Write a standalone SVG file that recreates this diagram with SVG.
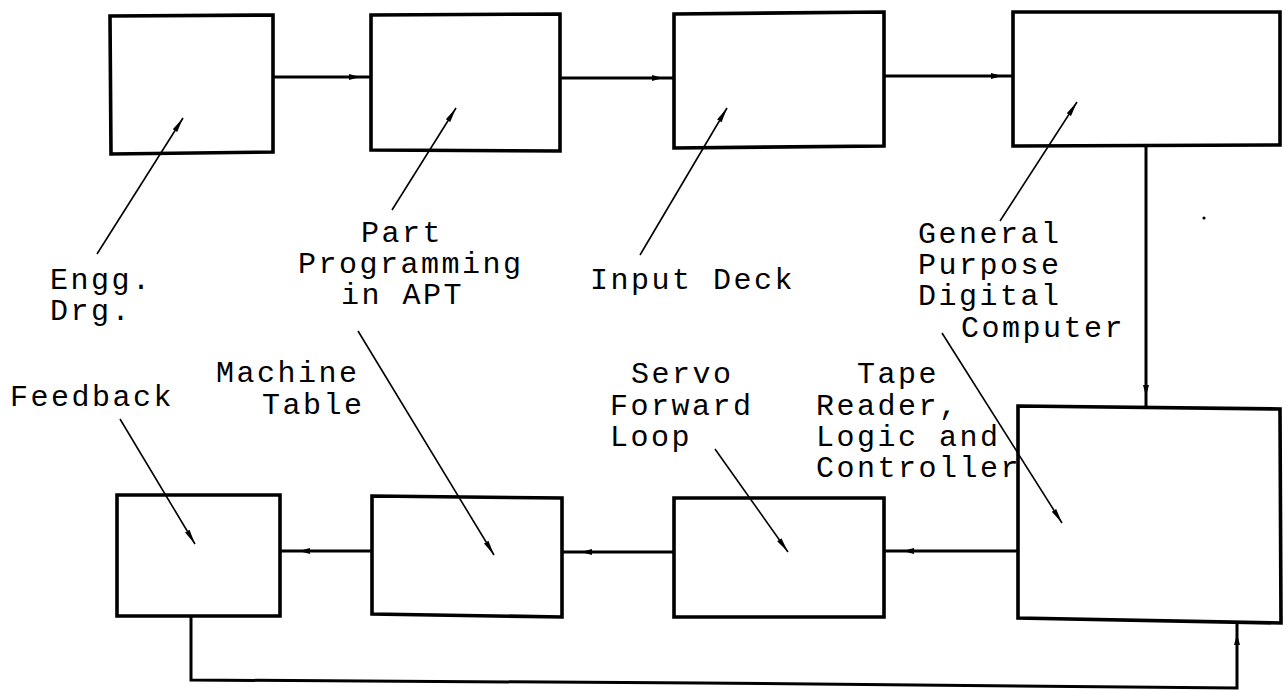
<svg xmlns="http://www.w3.org/2000/svg" width="1288" height="690" viewBox="0 0 1288 690">
  <style>
    .box { fill: #ffffff; stroke: #000000; stroke-width: 3.6; stroke-linejoin: miter; }
    .flow { fill: none; stroke: #000000; stroke-width: 3; }
    .lead { fill: none; stroke: #000000; stroke-width: 1.6; }
    .label { font-family: "Liberation Mono", "Courier New", monospace; font-size: 30px; letter-spacing: 2.5px; fill: #000000; }
  </style>
  <defs>
    <!-- solid head on block-to-block flow lines, drawn a little short of the path end -->
    <marker id="headNear" markerUnits="userSpaceOnUse" viewBox="0 0 30 10" refX="22" refY="5" markerWidth="30" markerHeight="10" orient="auto">
      <path d="M0,2 L11,5 L0,8 Z" fill="#000000"/>
    </marker>
    <marker id="headFar" markerUnits="userSpaceOnUse" viewBox="0 0 40 10" refX="30" refY="5" markerWidth="40" markerHeight="10" orient="auto">
      <path d="M0,2 L11,5 L0,8 Z" fill="#000000"/>
    </marker>
    <!-- slim head at the tip of each label pointer -->
    <marker id="pointer" markerUnits="userSpaceOnUse" viewBox="0 0 16 8" refX="15" refY="4" markerWidth="16" markerHeight="8" orient="auto">
      <path d="M0,1.4 L15,4 L0,6.6 Z" fill="#000000"/>
    </marker>
  </defs>

  <!-- top row -->
  <g id="engg-drawing">
    <path class="box" d="M110,16 L273,15 L273,152 L111,154 Z"/>
  </g>
  <g id="part-programming">
    <path class="box" d="M371,15 L560,14 L560,151 L371,150 Z"/>
  </g>
  <g id="input-deck">
    <path class="box" d="M674,14 L884,12 L884,146 L674,148 Z"/>
  </g>
  <g id="computer">
    <path class="box" d="M1013,12 L1280,12 L1280,145 L1013,146 Z"/>
  </g>

  <!-- bottom row -->
  <g id="feedback">
    <path class="box" d="M117,495 L280,495 L280,616 L117,616 Z"/>
  </g>
  <g id="machine-table">
    <path class="box" d="M372,496 L562,498 L562,617 L372,614 Z"/>
  </g>
  <g id="servo-loop">
    <path class="box" d="M674,498 L884,498 L884,617 L674,617 Z"/>
  </g>
  <g id="controller">
    <path class="box" d="M1018,406 L1280,409 L1281,623 L1018,618 Z"/>
  </g>

  <!-- flow lines between blocks -->
  <g id="connectors">
    <path class="flow" d="M273,77 L371,77" marker-end="url(#headNear)"/>
    <path class="flow" d="M560,78 L674,78" marker-end="url(#headNear)"/>
    <path class="flow" d="M884,76 L1013,76" marker-end="url(#headNear)"/>
    <path class="flow" d="M1146,146 L1146,407" marker-end="url(#headNear)"/>
    <path class="flow" d="M1018,551 L884,551" marker-end="url(#headFar)"/>
    <path class="flow" d="M674,552 L562,552" marker-end="url(#headFar)"/>
    <path class="flow" d="M372,551 L280,551" marker-end="url(#headFar)"/>
    <path class="flow" d="M191,616 L191,680 L700,683 L1237,688 L1237,623" marker-end="url(#headNear)"/>
  </g>

  <!-- pointers from labels to blocks -->
  <g id="pointers">
    <path class="lead" d="M97,254 L183,118" marker-end="url(#pointer)"/>
    <path class="lead" d="M392,210 L456,108" marker-end="url(#pointer)"/>
    <path class="lead" d="M640,255 L727,108" marker-end="url(#pointer)"/>
    <path class="lead" d="M1000,221 L1077,102" marker-end="url(#pointer)"/>
    <path class="lead" d="M120,419 L195,544" marker-end="url(#pointer)"/>
    <path class="lead" d="M358,331 L494,555" marker-end="url(#pointer)"/>
    <path class="lead" d="M715,449 L788,552" marker-end="url(#pointer)"/>
    <path class="lead" d="M942,333 L1062,523" marker-end="url(#pointer)"/>
  </g>

  <!-- labels -->
  <g id="labels">
    <text class="label" x="50" y="289">Engg.</text>
    <text class="label" x="50" y="320">Drg.</text>
    <text class="label" x="361" y="242">Part</text>
    <text class="label" x="298" y="273">Programming</text>
    <text class="label" x="341" y="304">in APT</text>
    <text class="label" x="590" y="289">Input Deck</text>
    <text class="label" x="918" y="243">General</text>
    <text class="label" x="918" y="274">Purpose</text>
    <text class="label" x="918" y="305">Digital</text>
    <text class="label" x="961" y="337">Computer</text>
    <text class="label" x="10" y="406">Feedback</text>
    <text class="label" x="216" y="382">Machine</text>
    <text class="label" x="262" y="414">Table</text>
    <text class="label" x="631" y="383">Servo</text>
    <text class="label" x="610" y="415">Forward</text>
    <text class="label" x="610" y="446">Loop</text>
    <text class="label" x="857" y="383">Tape</text>
    <text class="label" x="816" y="415">Reader,</text>
    <text class="label" x="816" y="446">Logic and</text>
    <text class="label" x="816" y="477">Controller</text>
  </g>

  <circle cx="1204" cy="218" r="1.6" fill="#000000"/>
</svg>
